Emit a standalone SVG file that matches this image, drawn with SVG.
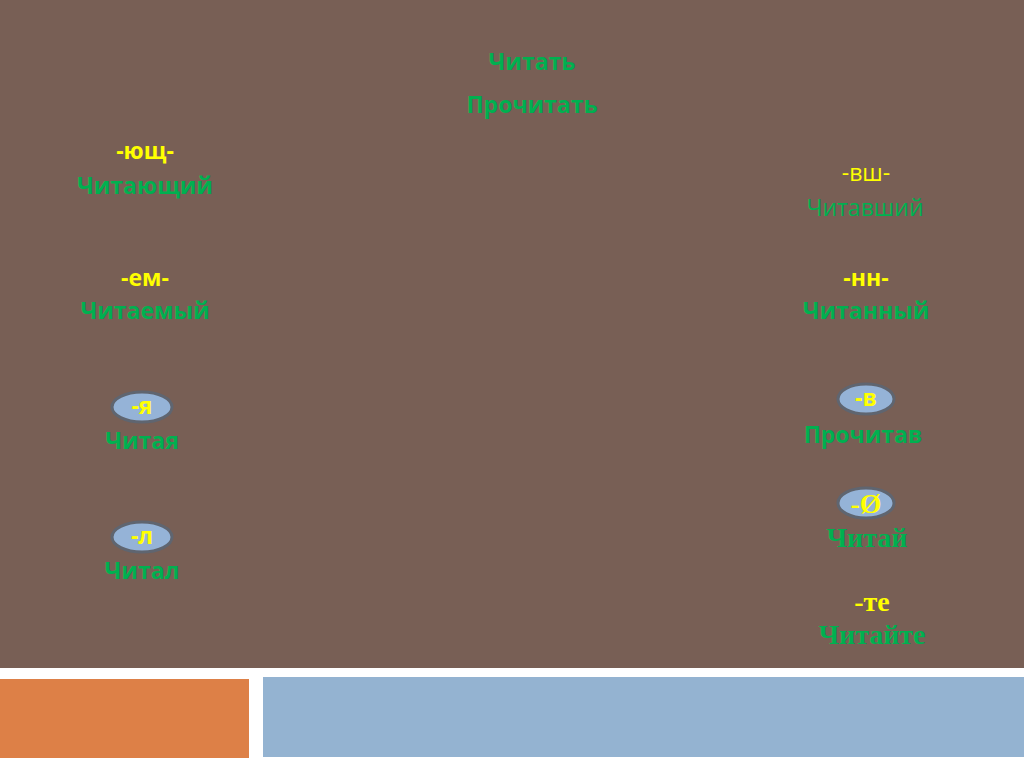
<svg xmlns="http://www.w3.org/2000/svg" width="1024" height="767" viewBox="0 0 1024 767">
<style>
.s{font-family:"Open Sans","Liberation Sans",sans-serif;font-weight:bold;text-anchor:middle;font-size:23px}
.n{font-weight:normal}
.g{fill:#00b050}
.y{fill:#ffff00}
.r{font-family:"Liberation Serif",serif;font-weight:bold;text-anchor:middle;font-size:28px}
.e{fill:#95b3d7;stroke:#5f6570;stroke-width:3}
</style>
<rect x="0" y="0" width="1024" height="767" fill="#ffffff"/>
<rect x="0" y="0" width="1024" height="668" fill="#785f55"/>
<rect x="0" y="679" width="249" height="79" fill="#dd8047"/>
<rect x="263" y="677" width="761" height="80" fill="#94b3d1"/>
<g id="head">
<text class="s g" x="532" y="70" font-size="20">Читать</text>
<text class="s g" x="532" y="113" font-size="20">Прочитать</text>
</g>
<g id="yushch">
<text class="s y" x="145" y="159">-ющ-</text>
<text class="s g" x="145" y="194">Читающий</text>
</g>
<g id="em">
<text class="s y" x="145" y="286">-ем-</text>
<text class="s g" x="145" y="319">Читаемый</text>
</g>
<g id="ya">
<ellipse class="e" cx="142" cy="407" rx="30" ry="15"/>
<text class="s y" x="142" y="414" font-size="19">-я</text>
<text class="s g" x="142" y="449">Читая</text>
</g>
<g id="l">
<ellipse class="e" cx="142" cy="537" rx="30" ry="15"/>
<text class="s y" x="142" y="544" font-size="19">-л</text>
<text class="s g" x="142" y="579">Читал</text>
</g>
<g id="vsh">
<text class="s n y" x="866" y="181">-вш-</text>
<text class="s n g" x="865" y="216">Читавший</text>
</g>
<g id="nn">
<text class="s y" x="866" y="286">-нн-</text>
<text class="s g" x="866" y="319">Читанный</text>
</g>
<g id="v">
<ellipse class="e" cx="866" cy="399" rx="28" ry="15"/>
<text class="s y" x="866" y="406" font-size="19">-в</text>
<text class="s g" x="863" y="443">Прочитав</text>
</g>
<g id="zero">
<ellipse class="e" cx="866" cy="503" rx="28" ry="15"/>
<text class="r y" x="866" y="513">-Ø</text>
<text class="r g" x="867" y="547">Читай</text>
</g>
<g id="te">
<text class="r y" x="872" y="611">-те</text>
<text class="r g" x="872" y="644">Читайте</text>
</g>
<g id="connectors"></g>
</svg>
